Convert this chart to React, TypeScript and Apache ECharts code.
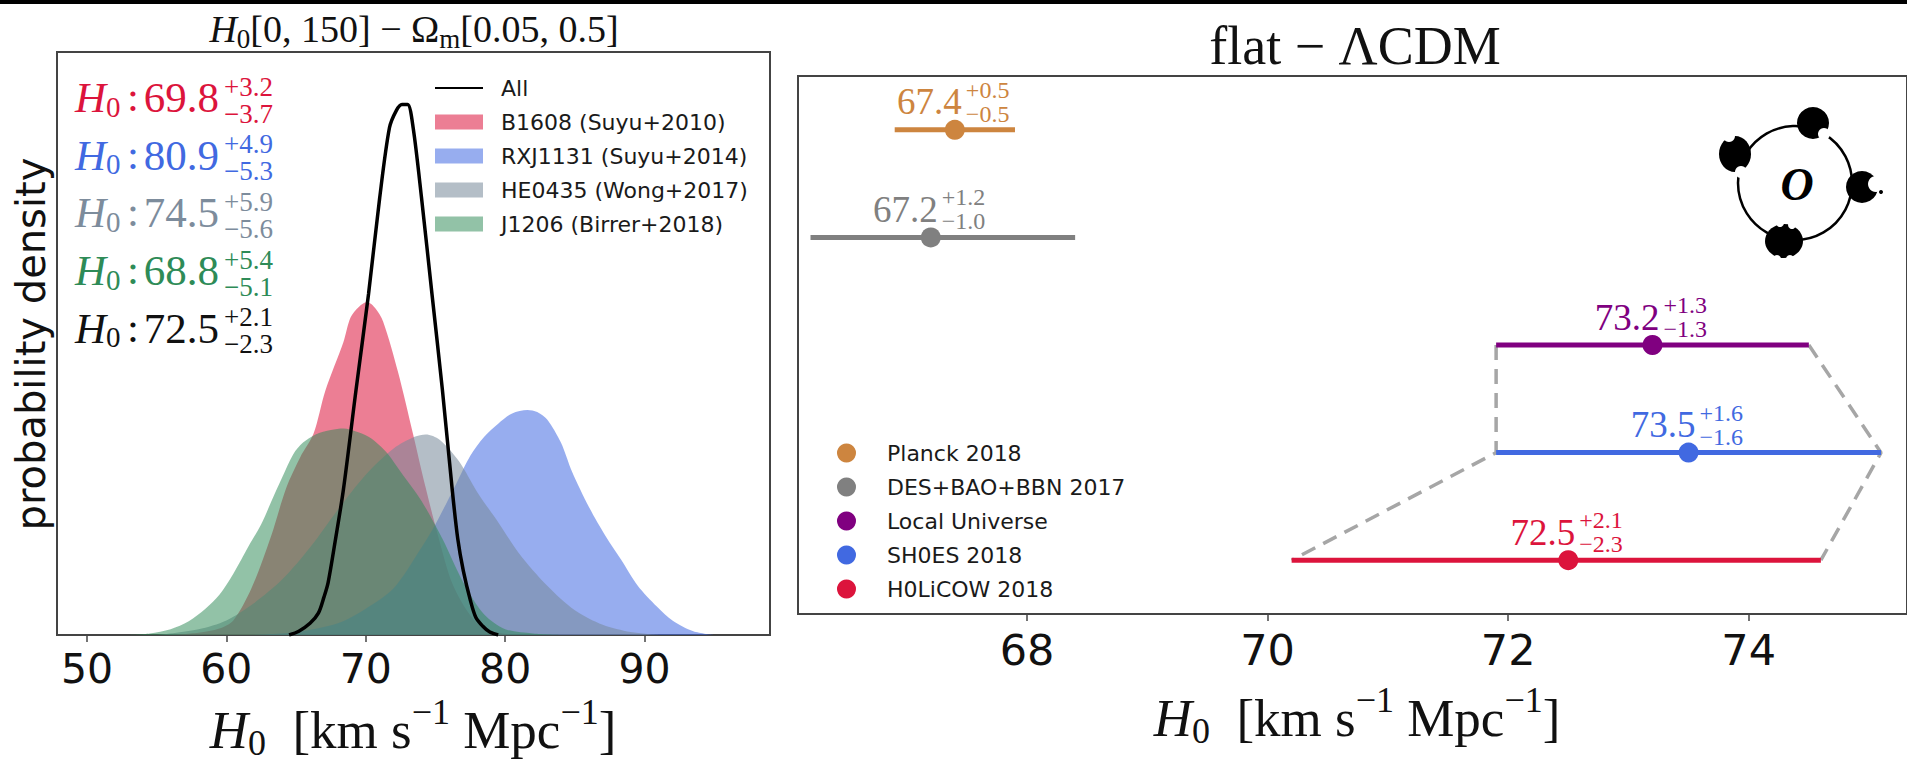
import React, { useEffect, useRef } from 'react';
import * as echarts from 'echarts';

const SERIF = '"Liberation Serif", "DejaVu Serif", serif';
const SANS = '"DejaVu Sans", sans-serif';
const MINUS = '\u2212';

// ---------------- Left panel: H0 posteriors of the lenses ----------------
const lensNames = ['B1608 (Suyu+2010)', 'RXJ1131 (Suyu+2014)', 'HE0435 (Wong+2017)', 'J1206 (Birrer+2018)'];
const allName = 'All';
const curveB1608: [number, number][] = [
  [56, 0], [58, 0.0008], [59.5, 0.0022], [60.5, 0.005], [61.8, 0.016], [63.2, 0.0338], [64.3, 0.0505],
  [65.3, 0.061], [66.25, 0.069], [67.1, 0.0838], [68.4, 0.1005], [68.9, 0.1088], [69.5, 0.1125],
  [70.1, 0.1142], [70.7, 0.112], [71.25, 0.1075], [72.3, 0.0905], [73.4, 0.0688], [74.3, 0.0505],
  [75.2, 0.0338], [76.25, 0.0172], [77.7, 0.0055], [79.1, 0.0013], [81, 0],
];
const curveRXJ1131: [number, number][] = [
  [62, 0], [65, 0.001], [68, 0.004], [70, 0.009], [72, 0.016], [74, 0.03], [75, 0.038], [76.5, 0.052],
  [77.5, 0.0615], [78.5, 0.068], [79.5, 0.0725], [80.5, 0.076], [81.6, 0.0772], [82.3, 0.0765], [83, 0.074],
  [84, 0.066], [84.8, 0.056], [86, 0.044], [87.2, 0.034], [88.3, 0.026], [89.5, 0.017], [90.9, 0.0097],
  [92, 0.005], [93.5, 0.0013], [95, 0],
];
const curveHE0435: [number, number][] = [
  [55, 0], [58, 0.002], [60, 0.005], [62, 0.011], [64, 0.019], [66, 0.03], [68, 0.043], [70, 0.055],
  [72, 0.064], [73.5, 0.068], [74.3, 0.0688], [75.3, 0.067], [76.7, 0.0595], [78, 0.049], [79.5, 0.0387],
  [81, 0.028], [83, 0.017], [85, 0.0085], [87, 0.0035], [89, 0.001], [91, 0],
];
const curveJ1206: [number, number][] = [
  [53, 0], [54.5, 0.0005], [56, 0.002], [57.3, 0.0047], [58.5, 0.009], [59.5, 0.0138], [60.5, 0.021],
  [61.6, 0.0305], [62.5, 0.038], [63.2, 0.0455], [64, 0.054], [64.8, 0.062], [65.5, 0.066], [66.4, 0.0688],
  [67.5, 0.0703], [68.4, 0.0708], [69.3, 0.0698], [70.2, 0.068], [71, 0.065], [71.6, 0.062], [72.5, 0.056],
  [74, 0.046], [75.5, 0.033], [77, 0.018], [78.5, 0.007], [80, 0.002], [82, 0.0005], [84, 0],
];
const curveAll: [number, number][] = [
  [64.5, 0], [65.2, 0.0013], [66, 0.004], [66.6, 0.0075], [67, 0.013], [67.3, 0.018], [67.8, 0.032],
  [68.4, 0.05], [69.3, 0.084], [70.2, 0.117], [71, 0.15], [71.7, 0.174], [72.2, 0.18], [72.6, 0.182],
  [73, 0.182], [73.4, 0.174], [74, 0.15], [74.75, 0.117], [75.5, 0.084], [76.2, 0.05], [76.6, 0.033],
  [77, 0.022], [77.5, 0.012], [77.9, 0.006], [78.4, 0.003], [78.9, 0.001], [79.5, 0],
];
const lensCurves = [curveB1608, curveRXJ1131, curveHE0435, curveJ1206];
const lensFills = ['rgba(220,20,60,0.55)', 'rgba(65,105,225,0.55)', 'rgba(119,136,153,0.55)', 'rgba(46,139,87,0.52)'];
const summaryH0 = [69.8, 80.9, 74.5, 68.8, 72.5];
const summaryPlus = [3.2, 4.9, 5.9, 5.4, 2.1];
const summaryMinus = [3.7, 5.3, 5.6, 5.1, 2.3];
const summaryColors = ['#dc143c', '#4169e1', '#7d8c9c', '#2e8b57', '#111111'];
const leftTicks = [50, 60, 70, 80, 90];

// ---------------- Right panel: flat LCDM comparison ----------------
const probeNames = ['Planck 2018', 'DES+BAO+BBN 2017', 'Local Universe', 'SH0ES 2018', 'H0LiCOW 2018'];
const probeH0 = [67.4, 67.2, 73.2, 73.5, 72.5];
const probePlus = [0.5, 1.2, 1.3, 1.6, 2.1];
const probeMinus = [0.5, 1.0, 1.3, 1.6, 2.3];
const probeRow = [5, 4, 3, 2, 1];
const probeColors = ['#cd853f', '#808080', '#800080', '#4169e1', '#dc143c'];
const connectorChain = [2, 3, 4];
const rightTicks = [68, 70, 72, 74];

function makeRender(color: string) {
  return (_params: any, api: any) => {
    const c = api.value(0);
    const mn = api.value(1);
    const pl = api.value(2);
    const row = api.value(3);
    const p = api.coord([c, row]);
    const a = api.coord([c - mn, row]);
    const b = api.coord([c + pl, row]);
    const tx = { legacy: false, fill: color, fontFamily: SERIF, verticalAlign: 'middle', textVerticalAlign: 'middle' };
    return {
      type: 'group',
      children: [
        { type: 'line', shape: { x1: a[0], y1: p[1], x2: b[0], y2: p[1] }, style: { stroke: color, lineWidth: 5 } },
        { type: 'circle', shape: { cx: p[0], cy: p[1], r: 10 }, style: { fill: color } },
        { type: 'text', x: p[0] + 7, y: p[1] - 28, style: { ...tx, text: c.toFixed(1), fontSize: 37, lineHeight: 30, align: 'right', textAlign: 'right' } },
        { type: 'text', x: p[0] + 11, y: p[1] - 40, style: { ...tx, text: '+' + pl.toFixed(1), fontSize: 24, lineHeight: 20, align: 'left', textAlign: 'left' } },
        { type: 'text', x: p[0] + 11, y: p[1] - 16, style: { ...tx, text: MINUS + mn.toFixed(1), fontSize: 24, lineHeight: 20, align: 'left', textAlign: 'left' } },
      ],
    };
  };
}

const axisTitleText = '{i|H}{s|0}{r|  [km s}{p|' + MINUS + '1}{r| Mpc}{p|' + MINUS + '1}{r|]}';
const axisTitleRich = {
  i: { fontFamily: SERIF, fontStyle: 'italic', fontSize: 53, lineHeight: 58, verticalAlign: 'middle', fill: '#111' },
  r: { fontFamily: SERIF, fontSize: 53, lineHeight: 58, verticalAlign: 'middle', fill: '#111' },
  s: { fontFamily: SERIF, fontSize: 36, lineHeight: 38, padding: [26, 0, 0, 0], verticalAlign: 'middle', fill: '#111' },
  p: { fontFamily: SERIF, fontSize: 36, lineHeight: 38, padding: [0, 0, 36, 0], verticalAlign: 'middle', fill: '#111' },
};

export default function App() {
  const ref = useRef<HTMLDivElement>(null);
  useEffect(() => {
    document.body.style.margin = '0';
    if (!ref.current) return;
    const chart = echarts.init(ref.current, undefined, { renderer: 'svg' });

    const annot: any[] = [];
    summaryH0.forEach((v, i) => {
      const yc = 97.5 + 57.7 * i;
      const base = { legacy: false, fill: summaryColors[i], fontFamily: SERIF, verticalAlign: 'middle', textVerticalAlign: 'middle' };
      annot.push(
        { type: 'text', x: 75, y: yc, style: { ...base, text: 'H', fontStyle: 'italic', fontSize: 43, lineHeight: 34, align: 'left', textAlign: 'left' } },
        { type: 'text', x: 106, y: yc + 9, style: { ...base, text: '0', fontSize: 29, lineHeight: 22, align: 'left', textAlign: 'left' } },
        { type: 'text', x: 127, y: yc - 1, style: { ...base, text: ':', fontSize: 43, lineHeight: 30, align: 'left', textAlign: 'left' } },
        { type: 'text', x: 219, y: yc, style: { ...base, text: v.toFixed(1), fontSize: 43, lineHeight: 32, align: 'right', textAlign: 'right' } },
        { type: 'text', x: 224, y: yc - 11, style: { ...base, text: '+' + summaryPlus[i].toFixed(1), fontSize: 27, lineHeight: 22, align: 'left', textAlign: 'left' } },
        { type: 'text', x: 224, y: yc + 16, style: { ...base, text: MINUS + summaryMinus[i].toFixed(1), fontSize: 27, lineHeight: 22, align: 'left', textAlign: 'left' } },
      );
    });

    const logo: any[] = [
      { type: 'circle', shape: { cx: 1795, cy: 183, r: 57 }, style: { fill: 'none', stroke: '#000', lineWidth: 2.5 } },
      { type: 'circle', shape: { cx: 1813, cy: 123, r: 16 }, style: { fill: '#000' } },
      { type: 'circle', shape: { cx: 1824, cy: 134, r: 6 }, style: { fill: '#fff' } },
      { type: 'ellipse', shape: { cx: 1735, cy: 154, rx: 16, ry: 18 }, style: { fill: '#000' } },
      { type: 'circle', shape: { cx: 1729, cy: 136, r: 6 }, style: { fill: '#fff' } },
      { type: 'circle', shape: { cx: 1741, cy: 172, r: 6 }, style: { fill: '#fff' } },
      { type: 'circle', shape: { cx: 1862, cy: 187, r: 16 }, style: { fill: '#000' } },
      { type: 'circle', shape: { cx: 1876, cy: 184, r: 8 }, style: { fill: '#fff' } },
      { type: 'circle', shape: { cx: 1881, cy: 192, r: 2 }, style: { fill: '#000' } },
      { type: 'ellipse', shape: { cx: 1784, cy: 241, rx: 19, ry: 17 }, style: { fill: '#000' } },
      { type: 'circle', shape: { cx: 1780, cy: 223, r: 4 }, style: { fill: '#fff' } },
      { type: 'circle', shape: { cx: 1792, cy: 225, r: 4 }, style: { fill: '#fff' } },
      { type: 'circle', shape: { cx: 1777, cy: 259, r: 4 }, style: { fill: '#fff' } },
      { type: 'circle', shape: { cx: 1790, cy: 259, r: 4 }, style: { fill: '#fff' } },
      { type: 'text', x: 1797, y: 184, style: { legacy: false, text: 'O', fill: '#000', fontFamily: SERIF, fontStyle: 'italic', fontWeight: 'bold', fontSize: 46, align: 'center', textAlign: 'center', verticalAlign: 'middle', textVerticalAlign: 'middle' } },
    ];

    const lo = (k: number) => probeH0[k] - probeMinus[k];
    const hi = (k: number) => probeH0[k] + probePlus[k];

    const option: any = {
      animation: false,
      backgroundColor: '#fff',
      grid: [
        { left: 57, top: 52, width: 713, height: 583, show: true, borderColor: '#444', borderWidth: 2, backgroundColor: 'transparent' },
        { left: 798, top: 76, width: 1114, height: 538, show: true, borderColor: '#444', borderWidth: 2, backgroundColor: 'transparent' },
      ],
      xAxis: [
        {
          type: 'value', gridIndex: 0, min: 47.85, max: 99,
          axisLine: { show: false }, splitLine: { show: false },
          axisTick: { show: true, customValues: leftTicks, length: 7, lineStyle: { color: '#444', width: 1.5 } },
          axisLabel: { customValues: leftTicks, fontSize: 41, fontFamily: SANS, color: '#111', margin: 13 },
        },
        {
          type: 'value', gridIndex: 1, min: 66.096, max: 75.316,
          axisLine: { show: false }, splitLine: { show: false },
          axisTick: { show: true, customValues: rightTicks, length: 7, lineStyle: { color: '#444', width: 1.5 } },
          axisLabel: { customValues: rightTicks, fontSize: 43, fontFamily: SANS, color: '#111', margin: 14 },
        },
      ],
      yAxis: [
        { type: 'value', gridIndex: 0, min: 0, max: 0.2, show: false },
        { type: 'value', gridIndex: 1, min: 0.5, max: 5.5, show: false },
      ],
      legend: [
        {
          orient: 'vertical', left: 429, top: 72, itemWidth: 48, itemHeight: 15, itemGap: 12, selectedMode: false,
          textStyle: { fontSize: 22, fontFamily: SANS, color: '#1a1a1a', lineHeight: 22, padding: [0, 0, 0, 13] },
          data: [
            { name: allName, itemStyle: { color: 'rgba(0,0,0,0)', borderWidth: 0, opacity: 0 } },
            ...lensNames.map((n, i) => ({ name: n, icon: 'rect', itemStyle: { color: lensFills[i], borderWidth: 0 } })),
          ],
        },
        {
          orient: 'vertical', left: 832, top: 437, itemWidth: 19, itemHeight: 19, itemGap: 12, selectedMode: false,
          textStyle: { fontSize: 22, fontFamily: SANS, color: '#1a1a1a', lineHeight: 22, padding: [0, 0, 0, 26] },
          data: probeNames.map((n, i) => ({ name: n, icon: 'circle', itemStyle: { color: probeColors[i], borderWidth: 0 } })),
        },
      ],
      series: [
        ...lensCurves.map((d, i) => ({
          type: 'line', name: lensNames[i], xAxisIndex: 0, yAxisIndex: 0, data: d, smooth: 0.3,
          showSymbol: false, symbol: 'none', silent: true,
          lineStyle: { width: 0, opacity: 0, color: lensFills[i] },
          itemStyle: { color: lensFills[i] },
          areaStyle: { color: lensFills[i], opacity: 1 },
          z: 2 + i,
        })),
        {
          type: 'line', name: allName, xAxisIndex: 0, yAxisIndex: 0, data: curveAll, smooth: 0.3,
          showSymbol: false, symbol: 'none', silent: true,
          lineStyle: { width: 3.5, color: '#000' }, itemStyle: { color: '#000' }, z: 10,
        },
        {
          type: 'line', xAxisIndex: 1, yAxisIndex: 1, silent: true, showSymbol: false, symbol: 'none', z: 1,
          data: connectorChain.map((k) => [lo(k), probeRow[k]]),
          lineStyle: { color: '#a6a6a6', width: 3.5, type: [15, 9] },
        },
        {
          type: 'line', xAxisIndex: 1, yAxisIndex: 1, silent: true, showSymbol: false, symbol: 'none', z: 1,
          data: connectorChain.map((k) => [hi(k), probeRow[k]]),
          lineStyle: { color: '#a6a6a6', width: 3.5, type: [15, 9] },
        },
        ...probeNames.map((n, i) => ({
          type: 'custom', name: n, xAxisIndex: 1, yAxisIndex: 1, silent: true, z: 5,
          itemStyle: { color: probeColors[i] },
          encode: { x: 0, y: 3 },
          data: [[probeH0[i], probeMinus[i], probePlus[i], probeRow[i]]],
          renderItem: makeRender(probeColors[i]),
        })),
      ],
      graphic: [
        { type: 'rect', shape: { x: 0, y: 0, width: 1907, height: 4 }, style: { fill: '#000' } },
        {
          type: 'text', x: 414, y: 29,
          style: {
            legacy: false, text: '{i|H}{s|0}{r|[0, 150] ' + MINUS + ' Ω}{s|m}{r|[0.05, 0.5]}',
            align: 'center', textAlign: 'center', verticalAlign: 'middle', textVerticalAlign: 'middle', fill: '#111',
            rich: {
              i: { fontFamily: SERIF, fontStyle: 'italic', fontSize: 38, lineHeight: 44, verticalAlign: 'middle', fill: '#111' },
              r: { fontFamily: SERIF, fontSize: 38, lineHeight: 44, verticalAlign: 'middle', fill: '#111' },
              s: { fontFamily: SERIF, fontSize: 27, lineHeight: 30, padding: [20, 0, 0, 0], verticalAlign: 'middle', fill: '#111' },
            },
          },
        },
        {
          type: 'text', x: 1355, y: 46,
          style: { legacy: false, text: 'flat ' + MINUS + ' ΛCDM', fontFamily: SERIF, fontSize: 54, fill: '#111', align: 'center', textAlign: 'center', verticalAlign: 'middle', textVerticalAlign: 'middle' },
        },
        {
          type: 'text', x: 31, y: 344, rotation: Math.PI / 2,
          style: { legacy: false, text: 'probability density', fontFamily: SANS, fontSize: 40, fill: '#111', align: 'center', textAlign: 'center', verticalAlign: 'middle', textVerticalAlign: 'middle' },
        },
        {
          type: 'text', x: 413, y: 730,
          style: { legacy: false, text: axisTitleText, rich: axisTitleRich, fill: '#111', align: 'center', textAlign: 'center', verticalAlign: 'middle', textVerticalAlign: 'middle' },
        },
        {
          type: 'text', x: 1357, y: 718,
          style: { legacy: false, text: axisTitleText, rich: axisTitleRich, fill: '#111', align: 'center', textAlign: 'center', verticalAlign: 'middle', textVerticalAlign: 'middle' },
        },
        ...annot,
        ...logo,
      ],
    };
    chart.setOption(option);
    return () => chart.dispose();
  }, []);
  return <div ref={ref} style={{ position: 'fixed', left: 0, top: 0, width: 1907, height: 766, background: '#fff' }} />;
}
